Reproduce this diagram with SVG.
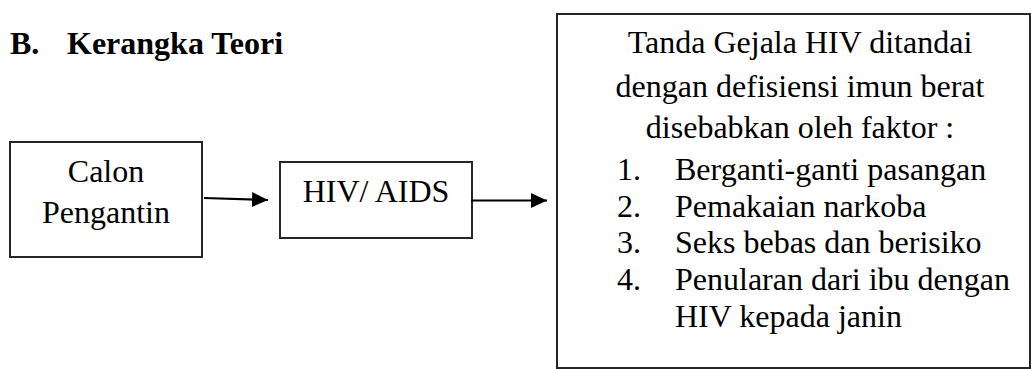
<svg xmlns="http://www.w3.org/2000/svg" width="1031" height="369" viewBox="0 0 1031 369">
<style>
text{font-family:"Liberation Serif","Times New Roman",serif;font-size:32px;fill:#000}
.title{font-weight:bold}
.box{fill:#fff;stroke:#262626;stroke-width:2}
.conn{stroke:#000;stroke-width:2.2;fill:none}
</style>
<defs>
<marker id="arr" markerUnits="userSpaceOnUse" markerWidth="17" markerHeight="16" refX="16" refY="7.5" orient="auto">
<path d="M0,0 L16,7.5 L0,15 z" fill="#000"/>
</marker>
</defs>
<rect width="1031" height="369" fill="#fff"/>
<g id="title">
<text class="title" x="10" y="54">B.</text>
<text class="title" x="67" y="54">Kerangka Teori</text>
</g>
<g id="node-calon">
<rect class="box" x="10" y="142" width="192" height="115"/>
<text x="106" y="182" text-anchor="middle">Calon</text>
<text x="106" y="223" text-anchor="middle">Pengantin</text>
</g>
<g id="node-hiv">
<rect class="box" x="280" y="162" width="192" height="76"/>
<text x="376" y="202" text-anchor="middle">HIV/ AIDS</text>
</g>
<g id="node-gejala">
<rect class="box" x="557" y="14" width="473" height="354"/>
<text x="800" y="53" text-anchor="middle">Tanda Gejala HIV ditandai</text>
<text x="800" y="97" text-anchor="middle">dengan defisiensi imun berat</text>
<text x="800" y="138" text-anchor="middle">disebabkan oleh faktor :</text>
<text x="617" y="180">1.</text><text x="675" y="180">Berganti-ganti pasangan</text>
<text x="617" y="217">2.</text><text x="675" y="217">Pemakaian narkoba</text>
<text x="617" y="253">3.</text><text x="675" y="253">Seks bebas dan berisiko</text>
<text x="617" y="290">4.</text><text x="675" y="290">Penularan dari ibu dengan</text>
<text x="675" y="327">HIV kepada janin</text>
</g>
<g id="connectors">
<line class="conn" x1="204" y1="198" x2="268" y2="200" marker-end="url(#arr)"/>
<line class="conn" x1="471" y1="200.5" x2="547" y2="200.5" marker-end="url(#arr)"/>
</g>
</svg>
